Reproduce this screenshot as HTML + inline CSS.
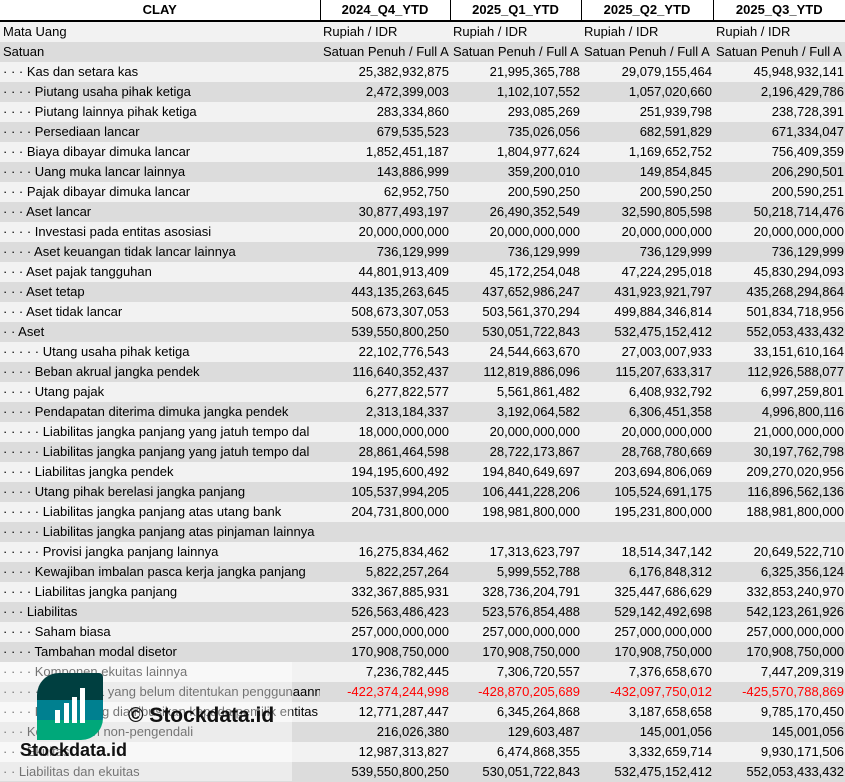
<!DOCTYPE html>
<html><head><meta charset="utf-8"><style>
body{margin:0;width:845px;height:781px;overflow:hidden;background:#fff;font-family:"Liberation Sans",sans-serif;font-size:13px;color:#000;position:relative}
table{border-collapse:collapse;table-layout:fixed;position:absolute;left:0;top:0;width:845px}
td{height:20px;padding:0 3px;white-space:nowrap;overflow:hidden;line-height:20px;box-sizing:border-box}
tr.h td{background:#fff;font-weight:bold;text-align:center;border-right:1px solid #000;border-bottom:2px solid #000;height:21px}
tr.h td:last-child{border-right:none}
tr:nth-child(even) td{background:#f2f2f2}
tr:nth-child(odd):not(.h) td{background:#dcdcdc}
td.n{text-align:right;padding-right:1px}
.r{color:#f00}
.ov{overflow:visible}
</style></head><body>
<table>
<colgroup><col style="width:320px"><col style="width:130px"><col style="width:131px"><col style="width:132px"><col style="width:132px"></colgroup>
<tr class="h"><td>CLAY</td><td>2024_Q4_YTD</td><td>2025_Q1_YTD</td><td>2025_Q2_YTD</td><td>2025_Q3_YTD</td></tr>
<tr><td>Mata Uang</td><td>Rupiah / IDR</td><td>Rupiah / IDR</td><td>Rupiah / IDR</td><td>Rupiah / IDR</td></tr>
<tr><td>Satuan</td><td style="padding-right:0">Satuan Penuh / Full A</td><td style="padding-right:0">Satuan Penuh / Full A</td><td style="padding-right:0">Satuan Penuh / Full A</td><td style="padding-right:0">Satuan Penuh / Full A</td></tr>
<tr><td>· · · Kas dan setara kas</td><td class="n">25,382,932,875</td><td class="n">21,995,365,788</td><td class="n">29,079,155,464</td><td class="n">45,948,932,141</td></tr>
<tr><td>· · · · Piutang usaha pihak ketiga</td><td class="n">2,472,399,003</td><td class="n">1,102,107,552</td><td class="n">1,057,020,660</td><td class="n">2,196,429,786</td></tr>
<tr><td>· · · · Piutang lainnya pihak ketiga</td><td class="n">283,334,860</td><td class="n">293,085,269</td><td class="n">251,939,798</td><td class="n">238,728,391</td></tr>
<tr><td>· · · · Persediaan lancar</td><td class="n">679,535,523</td><td class="n">735,026,056</td><td class="n">682,591,829</td><td class="n">671,334,047</td></tr>
<tr><td>· · · Biaya dibayar dimuka lancar</td><td class="n">1,852,451,187</td><td class="n">1,804,977,624</td><td class="n">1,169,652,752</td><td class="n">756,409,359</td></tr>
<tr><td>· · · · Uang muka lancar lainnya</td><td class="n">143,886,999</td><td class="n">359,200,010</td><td class="n">149,854,845</td><td class="n">206,290,501</td></tr>
<tr><td>· · · Pajak dibayar dimuka lancar</td><td class="n">62,952,750</td><td class="n">200,590,250</td><td class="n">200,590,250</td><td class="n">200,590,251</td></tr>
<tr><td>· · · Aset lancar</td><td class="n">30,877,493,197</td><td class="n">26,490,352,549</td><td class="n">32,590,805,598</td><td class="n">50,218,714,476</td></tr>
<tr><td>· · · · Investasi pada entitas asosiasi</td><td class="n">20,000,000,000</td><td class="n">20,000,000,000</td><td class="n">20,000,000,000</td><td class="n">20,000,000,000</td></tr>
<tr><td>· · · · Aset keuangan tidak lancar lainnya</td><td class="n">736,129,999</td><td class="n">736,129,999</td><td class="n">736,129,999</td><td class="n">736,129,999</td></tr>
<tr><td>· · · Aset pajak tangguhan</td><td class="n">44,801,913,409</td><td class="n">45,172,254,048</td><td class="n">47,224,295,018</td><td class="n">45,830,294,093</td></tr>
<tr><td>· · · Aset tetap</td><td class="n">443,135,263,645</td><td class="n">437,652,986,247</td><td class="n">431,923,921,797</td><td class="n">435,268,294,864</td></tr>
<tr><td>· · · Aset tidak lancar</td><td class="n">508,673,307,053</td><td class="n">503,561,370,294</td><td class="n">499,884,346,814</td><td class="n">501,834,718,956</td></tr>
<tr><td>· · Aset</td><td class="n">539,550,800,250</td><td class="n">530,051,722,843</td><td class="n">532,475,152,412</td><td class="n">552,053,433,432</td></tr>
<tr><td>· · · · · Utang usaha pihak ketiga</td><td class="n">22,102,776,543</td><td class="n">24,544,663,670</td><td class="n">27,003,007,933</td><td class="n">33,151,610,164</td></tr>
<tr><td>· · · · Beban akrual jangka pendek</td><td class="n">116,640,352,437</td><td class="n">112,819,886,096</td><td class="n">115,207,633,317</td><td class="n">112,926,588,077</td></tr>
<tr><td>· · · · Utang pajak</td><td class="n">6,277,822,577</td><td class="n">5,561,861,482</td><td class="n">6,408,932,792</td><td class="n">6,997,259,801</td></tr>
<tr><td>· · · · Pendapatan diterima dimuka jangka pendek</td><td class="n">2,313,184,337</td><td class="n">3,192,064,582</td><td class="n">6,306,451,358</td><td class="n">4,996,800,116</td></tr>
<tr><td>· · · · · Liabilitas jangka panjang yang jatuh tempo dal</td><td class="n">18,000,000,000</td><td class="n">20,000,000,000</td><td class="n">20,000,000,000</td><td class="n">21,000,000,000</td></tr>
<tr><td>· · · · · Liabilitas jangka panjang yang jatuh tempo dal</td><td class="n">28,861,464,598</td><td class="n">28,722,173,867</td><td class="n">28,768,780,669</td><td class="n">30,197,762,798</td></tr>
<tr><td>· · · · Liabilitas jangka pendek</td><td class="n">194,195,600,492</td><td class="n">194,840,649,697</td><td class="n">203,694,806,069</td><td class="n">209,270,020,956</td></tr>
<tr><td>· · · · Utang pihak berelasi jangka panjang</td><td class="n">105,537,994,205</td><td class="n">106,441,228,206</td><td class="n">105,524,691,175</td><td class="n">116,896,562,136</td></tr>
<tr><td>· · · · · Liabilitas jangka panjang atas utang bank</td><td class="n">204,731,800,000</td><td class="n">198,981,800,000</td><td class="n">195,231,800,000</td><td class="n">188,981,800,000</td></tr>
<tr><td class="ov">· · · · · Liabilitas jangka panjang atas pinjaman lainnya</td><td></td><td></td><td></td><td></td></tr>
<tr><td>· · · · · Provisi jangka panjang lainnya</td><td class="n">16,275,834,462</td><td class="n">17,313,623,797</td><td class="n">18,514,347,142</td><td class="n">20,649,522,710</td></tr>
<tr><td>· · · · Kewajiban imbalan pasca kerja jangka panjang</td><td class="n">5,822,257,264</td><td class="n">5,999,552,788</td><td class="n">6,176,848,312</td><td class="n">6,325,356,124</td></tr>
<tr><td>· · · · Liabilitas jangka panjang</td><td class="n">332,367,885,931</td><td class="n">328,736,204,791</td><td class="n">325,447,686,629</td><td class="n">332,853,240,970</td></tr>
<tr><td>· · · Liabilitas</td><td class="n">526,563,486,423</td><td class="n">523,576,854,488</td><td class="n">529,142,492,698</td><td class="n">542,123,261,926</td></tr>
<tr><td>· · · · Saham biasa</td><td class="n">257,000,000,000</td><td class="n">257,000,000,000</td><td class="n">257,000,000,000</td><td class="n">257,000,000,000</td></tr>
<tr><td>· · · · Tambahan modal disetor</td><td class="n">170,908,750,000</td><td class="n">170,908,750,000</td><td class="n">170,908,750,000</td><td class="n">170,908,750,000</td></tr>
<tr><td>· · · · Komponen ekuitas lainnya</td><td class="n">7,236,782,445</td><td class="n">7,306,720,557</td><td class="n">7,376,658,670</td><td class="n">7,447,209,319</td></tr>
<tr><td>· · · · · Saldo laba yang belum ditentukan penggunaannya</td><td class="n r">-422,374,244,998</td><td class="n r">-428,870,205,689</td><td class="n r">-432,097,750,012</td><td class="n r">-425,570,788,869</td></tr>
<tr><td>· · · · Ekuitas yang diatribusikan kepada pemilik entitas induk</td><td class="n">12,771,287,447</td><td class="n">6,345,264,868</td><td class="n">3,187,658,658</td><td class="n">9,785,170,450</td></tr>
<tr><td>· · · Kepentingan non-pengendali</td><td class="n">216,026,380</td><td class="n">129,603,487</td><td class="n">145,001,056</td><td class="n">145,001,056</td></tr>
<tr><td>· · · Ekuitas</td><td class="n">12,987,313,827</td><td class="n">6,474,868,355</td><td class="n">3,332,659,714</td><td class="n">9,930,171,506</td></tr>
<tr><td>· · Liabilitas dan ekuitas</td><td class="n">539,550,800,250</td><td class="n">530,051,722,843</td><td class="n">532,475,152,412</td><td class="n">552,053,433,432</td></tr>
</table>
<div style="position:absolute;left:0;top:662px;width:292px;height:119px;background:rgba(255,255,255,0.45)"></div>
<div style="position:absolute;left:37px;top:673px;width:66px;height:67px;border-radius:22px 4px 22px 0;overflow:hidden;background:linear-gradient(#003f40 0,#003f40 40%,#008090 40%,#008090 70%,#00a87a 70%)">
<div style="position:absolute;left:18px;bottom:17px;width:5px;height:13px;background:#fff"></div>
<div style="position:absolute;left:27px;bottom:17px;width:5px;height:20px;background:#fff"></div>
<div style="position:absolute;left:35px;bottom:17px;width:5px;height:26px;background:#fff"></div>
<div style="position:absolute;left:43px;bottom:17px;width:5px;height:35px;background:#fff"></div>
</div>
<div style="position:absolute;left:128px;top:704px;font-weight:bold;font-size:21px;color:#111">© Stockdata.id</div>
<div style="position:absolute;left:20px;top:740px;font-weight:bold;font-size:18px;color:#111">Stockdata.id</div>
</body></html>
